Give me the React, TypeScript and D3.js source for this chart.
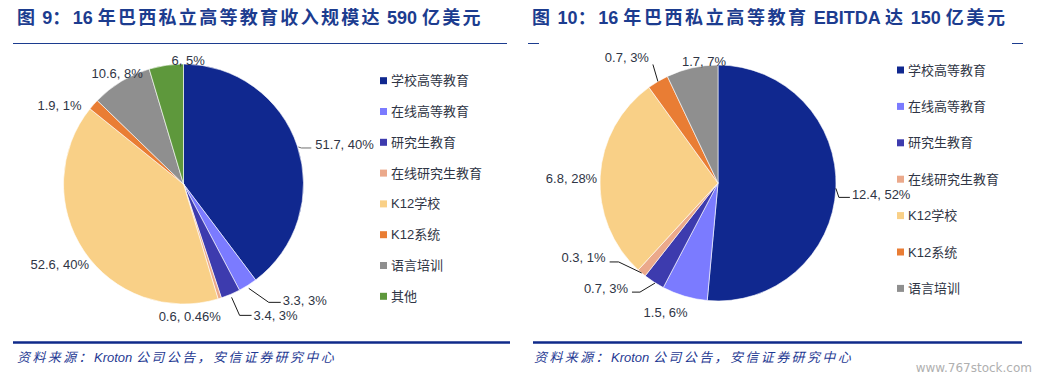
import React from "react";
import * as d3 from "d3";

// ---------- DATA ----------
const revenueCategories = ["学校高等教育", "在线高等教育", "研究生教育", "在线研究生教育", "K12学校", "K12系统", "语言培训", "其他"];
const revenueValues = [51.7, 3.3, 3.4, 0.6, 52.6, 1.9, 10.6, 6];
const revenuePctLabels = ["40%", "3%", "3%", "0.46%", "40%", "1%", "8%", "5%"];

const ebitdaCategories = ["学校高等教育", "在线高等教育", "研究生教育", "在线研究生教育", "K12学校", "K12系统", "语言培训"];
const ebitdaValues = [12.4, 1.5, 0.7, 0.3, 6.8, 0.7, 1.7];
const ebitdaPctLabels = ["52%", "6%", "3%", "1%", "28%", "3%", "7%"];

const leftTitle = "图 9：16 年巴西私立高等教育收入规模达 590 亿美元";
const rightTitle = "图 10：16 年巴西私立高等教育 EBITDA 达 150 亿美元";
const sourceText = "资料来源：Kroton 公司公告，安信证券研究中心";
const watermark = "www.767stock.com";

// ---------- STYLE ----------
const colorMap: Record<string, string> = {
  "学校高等教育": "#10288f",
  "在线高等教育": "#7b7bff",
  "研究生教育": "#3d3bae",
  "在线研究生教育": "#eba98b",
  "K12学校": "#f9d087",
  "K12系统": "#e97d34",
  "语言培训": "#8f8f8f",
  "其他": "#5e983c",
};
const FONT = "'Liberation Sans', Arial, 'Noto Sans CJK SC', sans-serif";
const TITLE_COLOR = "#1c3c8f";
const TEXT_COLOR = "#2f3545";

type LabelLayout = { dx: number; dy: number; anchor: string; leader?: number[][]; leaderColor?: string };

const leftLabelLayout: LabelLayout[] = [
  { dx: 18, dy: -1, anchor: "start", leader: [[1, 1], [4, 2], [14, 2]], leaderColor: "#707070" },
  { dx: 35, dy: 15, anchor: "start", leader: [[1, 3], [21, 17], [33, 17]] },
  { dx: 23, dy: 21, anchor: "start", leader: [[1, 3], [9, 21], [21, 21]] },
  { dx: -30, dy: 18, anchor: "middle" },
  { dx: 5, dy: 13, anchor: "end" },
  { dx: -12, dy: 1, anchor: "end" },
  { dx: -4, dy: -8, anchor: "middle" },
  { dx: 22, dy: -5, anchor: "middle" },
];

const rightLabelLayout: LabelLayout[] = [
  { dx: 16, dy: 6, anchor: "start", leader: [[0, 0], [3, 9], [14, 9]] },
  { dx: -19, dy: 16, anchor: "middle" },
  { dx: -26, dy: 6, anchor: "end", leader: [[1, 1], [-14, 10], [-22, 10]] },
  { dx: -36, dy: -15, anchor: "end", leader: [[0, 0], [-23, -11], [-32, -11]] },
  { dx: -3, dy: 2, anchor: "end" },
  { dx: -31, dy: -24, anchor: "middle", leader: [[0, 0], [-5, -17]] },
  { dx: 12, dy: -6, anchor: "middle" },
];

// split text into CJK / non-CJK runs so that only CJK glyphs get extra spacing
function runs(s: string) {
  const out: { t: string; cjk: boolean }[] = [];
  for (const ch of s) {
    const cjk = /[\u3000-\u9fff\uff00-\uffef]/.test(ch);
    const last = out[out.length - 1];
    if (last && last.cjk === cjk) last.t += ch;
    else out.push({ t: ch, cjk });
  }
  return out;
}

function SpacedText({ text, spacing, ...rest }: any) {
  return (
    <text {...rest}>
      {runs(text).map((r, i) => (
        <tspan key={i} letterSpacing={r.cjk ? spacing : 0}>{r.t}</tspan>
      ))}
    </text>
  );
}

function Pie({ cx, cy, r, categories, values, pcts, layout }: any) {
  const pie = d3.pie<number>().sort(null).value((d) => d)(values);
  const arc = d3.arc<d3.PieArcDatum<number>>().innerRadius(0).outerRadius(r);
  return (
    <g>
      <g transform={`translate(${cx},${cy})`}>
        {pie.map((p, i) => (
          <path key={i} d={arc(p) || ""} fill={colorMap[categories[i]]} stroke="#ffffff" strokeWidth={0.6} />
        ))}
      </g>
      {pie.map((p, i) => {
        const mid = (p.startAngle + p.endAngle) / 2;
        const ex = cx + r * Math.sin(mid);
        const ey = cy - r * Math.cos(mid);
        const L: LabelLayout = layout[i];
        const line = L.leader ? d3.line()(L.leader.map(([a, b]) => [ex + a, ey + b] as [number, number])) : null;
        return (
          <g key={i}>
            {line && <path d={line} fill="none" stroke={L.leaderColor || "#1a1a1a"} strokeWidth={1} />}
            <text x={ex + L.dx} y={ey + L.dy} textAnchor={L.anchor} dominantBaseline="central" fontSize={13} fill={TEXT_COLOR} fontFamily={FONT}>
              {`${values[i]}, ${pcts[i]}`}
            </text>
          </g>
        );
      })}
    </g>
  );
}

function Legend({ x, y, step, categories }: any) {
  return (
    <g>
      {categories.map((c: string, i: number) => (
        <g key={c} transform={`translate(${x},${y + i * step})`}>
          <rect x={0} y={-3.5} width={7} height={7} fill={colorMap[c]} />
          <text x={11} y={0} dominantBaseline="central" fontSize={13} fill={TEXT_COLOR} fontFamily={FONT}>{c}</text>
        </g>
      ))}
    </g>
  );
}

export default function App() {
  return (
    <svg width={1038} height={382} style={{ position: "absolute", left: 0, top: 0, background: "#fff" }}>
      <rect width={1038} height={382} fill="#fff" />
      {/* titles */}
      <SpacedText text={leftTitle} spacing={2.3} x={17} y={24} fontSize={18} fontWeight="bold" fill={TITLE_COLOR} fontFamily={FONT} />
      <SpacedText text={rightTitle} spacing={2.6} x={532} y={24} fontSize={18} fontWeight="bold" fill={TITLE_COLOR} fontFamily={FONT} />
      <line x1={13} x2={507} y1={43.5} y2={43.5} stroke={TITLE_COLOR} strokeWidth={1} />
      <line x1={528} x2={539} y1={43.5} y2={43.5} stroke={TITLE_COLOR} strokeWidth={1} />
      <line x1={1012} x2={1023} y1={43.5} y2={43.5} stroke={TITLE_COLOR} strokeWidth={1} />

      <Pie cx={183.5} cy={184} r={120} categories={revenueCategories} values={revenueValues} pcts={revenuePctLabels} layout={leftLabelLayout} />
      <Legend x={380} y={80.7} step={30.8} categories={revenueCategories} />

      <Pie cx={718} cy={183} r={118} categories={ebitdaCategories} values={ebitdaValues} pcts={ebitdaPctLabels} layout={rightLabelLayout} />
      <Legend x={897} y={70} step={36.4} categories={ebitdaCategories} />

      {/* footers */}
      <line x1={13} x2={510} y1={342.5} y2={342.5} stroke="#0f2a8a" strokeWidth={2.5} />
      <line x1={533} x2={1022} y1={342.5} y2={342.5} stroke="#0f2a8a" strokeWidth={2.5} />
      <SpacedText text={sourceText} spacing={2.4} x={17} y={362} fontSize={13} fontStyle="italic" fill="#1f3a93" fontFamily={FONT} />
      <SpacedText text={sourceText} spacing={2.4} x={534} y={362} fontSize={13} fontStyle="italic" fill="#1f3a93" fontFamily={FONT} />
      <text x={1032} y={372} textAnchor="end" fontSize={12} fill="#b0b0b0" fontFamily="'DejaVu Sans', sans-serif">{watermark}</text>
    </svg>
  );
}
